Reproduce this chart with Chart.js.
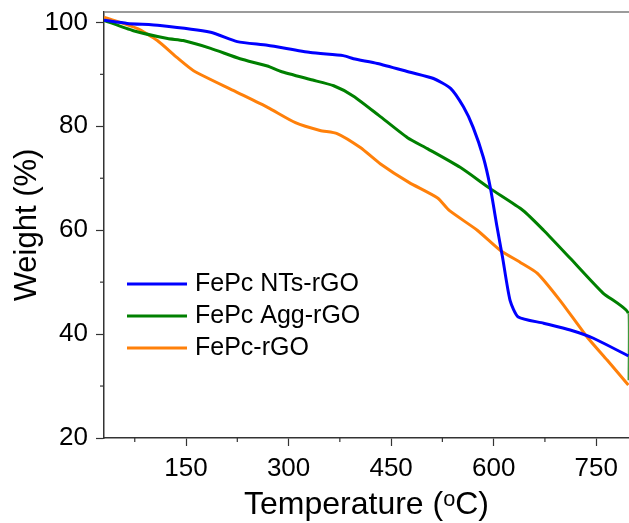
<!DOCTYPE html>
<html lang="en">
<head>
  <meta charset="UTF-8">
  <script src="https://cdn.jsdelivr.net/npm/chart.js"></script>
  <title>TGA curves</title>
  <style>
    body {
      margin: 0;
      padding: 0;
      background: #fff;
      overflow: hidden;
    }
  </style>
</head>
<body>
  <canvas id="tgaChart" width="629" height="523"></canvas>

  <script>
    // temperatures (°C) and weights (%)
    const ntsTemp   = [30, 64, 112, 186, 225, 269, 332, 380, 395, 430, 478, 512, 537, 556, 570, 585, 595, 605, 613, 624, 636, 673, 712, 746, 797];
    const ntsWeight = [100.4, 99.8, 99.4, 98.1, 96.3, 95.6, 94.2, 93.6, 93.0, 92.1, 90.4, 89.2, 87.3, 83.7, 79.8, 74.0, 68.3, 60.6, 54.8, 46.5, 43.3, 42.1, 40.8, 39.2, 35.8];

    const aggTemp   = [30, 73, 123, 146, 186, 229, 269, 288, 332, 366, 395, 432, 474, 503, 551, 595, 643, 673, 712, 760, 797, 797];
    const aggWeight = [100.4, 98.4, 96.9, 96.5, 95.0, 93.0, 91.6, 90.6, 89.0, 87.8, 85.8, 82.1, 77.8, 75.7, 72.1, 68.0, 63.8, 60.0, 54.6, 47.9, 44.0, 31.1];

    const goTemp    = [30, 79, 108, 137, 161, 219, 270, 310, 346, 371, 405, 434, 476, 518, 535, 576, 610, 639, 664, 697, 737, 766, 797];
    const goWeight  = [101.0, 98.8, 96.5, 93.2, 90.7, 86.9, 83.6, 80.7, 79.2, 78.6, 75.9, 72.8, 69.2, 66.2, 63.8, 60.0, 56.1, 53.8, 51.7, 46.5, 39.4, 35.0, 30.2];

    const seriesNames = ['FePc NTs-rGO', 'FePc Agg-rGO', 'FePc-rGO'];
    const xTicks = [150, 300, 450, 600, 750];
    const xMinor = [75, 225, 375, 525, 675];
    const yTicks = [20, 40, 60, 80, 100];
    const yMinor = [30, 50, 70, 90];

    const FONT = '"Liberation Sans", Arial, sans-serif';

    function toPoints(xs, ys) {
      return xs.map((x, i) => ({ x: x, y: ys[i] }));
    }

    // top frame line, minor ticks and the legend inside the plot
    const extras = {
      id: 'extras',
      afterDraw(chart) {
        const { ctx, chartArea } = chart;
        const xs = chart.scales.x, ys = chart.scales.y;
        ctx.save();
        ctx.strokeStyle = '#7a7a7a';
        ctx.lineWidth = 1.5;
        ctx.beginPath();
        ctx.moveTo(chartArea.left, chartArea.top);
        ctx.lineTo(chartArea.right, chartArea.top);
        ctx.stroke();

        ctx.strokeStyle = '#333';
        ctx.lineWidth = 1.2;
        xMinor.forEach(v => {
          const px = xs.getPixelForValue(v);
          ctx.beginPath();
          ctx.moveTo(px, chartArea.bottom);
          ctx.lineTo(px, chartArea.bottom + 4);
          ctx.stroke();
        });
        yMinor.forEach(v => {
          const py = ys.getPixelForValue(v);
          ctx.beginPath();
          ctx.moveTo(chartArea.left - 4, py);
          ctx.lineTo(chartArea.left, py);
          ctx.stroke();
        });

        // legend
        ctx.font = '25px ' + FONT;
        ctx.textBaseline = 'middle';
        ctx.textAlign = 'left';
        chart.data.datasets.forEach((ds, i) => {
          const y = 284 + i * 32;
          ctx.strokeStyle = ds.borderColor;
          ctx.lineWidth = 3;
          ctx.beginPath();
          ctx.moveTo(127, y);
          ctx.lineTo(187, y);
          ctx.stroke();
          ctx.fillStyle = '#000';
          ctx.fillText(ds.label, 195, y);
        });
        ctx.restore();
      }
    };

    const ctx = document.getElementById('tgaChart').getContext('2d');
    const lastAgg = aggTemp.length - 1;

    new Chart(ctx, {
      type: 'line',
      data: {
        datasets: [{
          label: seriesNames[0],
          data: toPoints(ntsTemp, ntsWeight),
          borderColor: '#0000ff',
        }, {
          label: seriesNames[1],
          data: toPoints(aggTemp, aggWeight),
          borderColor: '#008000',
          segment: {
            borderWidth: c => c.p1DataIndex === lastAgg ? 1.5 : undefined,
            borderColor: c => c.p1DataIndex === lastAgg ? '#3c9a3c' : undefined,
          },
        }, {
          label: seriesNames[2],
          data: toPoints(goTemp, goWeight),
          borderColor: '#ff800a',
        }]
      },
      options: {
        responsive: false,
        animation: false,
        layout: { padding: { top: 12, right: 0, bottom: 0, left: 0 } },
        elements: {
          point: { radius: 0 },
          line: { borderWidth: 3, tension: 0.2, fill: false }
        },
        plugins: {
          legend: { display: false },
          tooltip: { enabled: false }
        },
        scales: {
          x: {
            type: 'linear',
            min: 30,
            max: 798,
            afterBuildTicks: s => { s.ticks = xTicks.map(v => ({ value: v })); },
            afterFit: s => { s.height = 85; s.paddingLeft = 0; s.paddingRight = 0; },
            grid: { drawOnChartArea: false, drawTicks: true, tickLength: 8, tickColor: '#333', tickWidth: 1.2 },
            border: { color: '#333', width: 1.5 },
            ticks: { color: '#000', padding: 7, maxRotation: 0, font: { family: FONT, size: 26 } },
            title: {
              display: true,
              text: 'Temperature (ᵒC)',
              color: '#000',
              padding: { top: 0, bottom: 0 },
              font: { family: FONT, size: 32, lineHeight: 1.1 }
            }
          },
          y: {
            type: 'linear',
            min: 20,
            max: 102,
            afterBuildTicks: s => { s.ticks = yTicks.map(v => ({ value: v })); },
            afterFit: s => { s.width = 104; s.paddingTop = 0; s.paddingBottom = 0; },
            grid: { drawOnChartArea: false, drawTicks: true, tickLength: 8, tickColor: '#333', tickWidth: 1.2 },
            border: { color: '#333', width: 1.5 },
            ticks: { color: '#000', padding: 8, font: { family: FONT, size: 26 } },
            title: {
              display: true,
              text: 'Weight (%)',
              color: '#000',
              padding: { top: 9, bottom: 0 },
              font: { family: FONT, size: 31, lineHeight: 1.2 }
            }
          }
        }
      },
      plugins: [extras]
    });
  </script>
</body>
</html>
